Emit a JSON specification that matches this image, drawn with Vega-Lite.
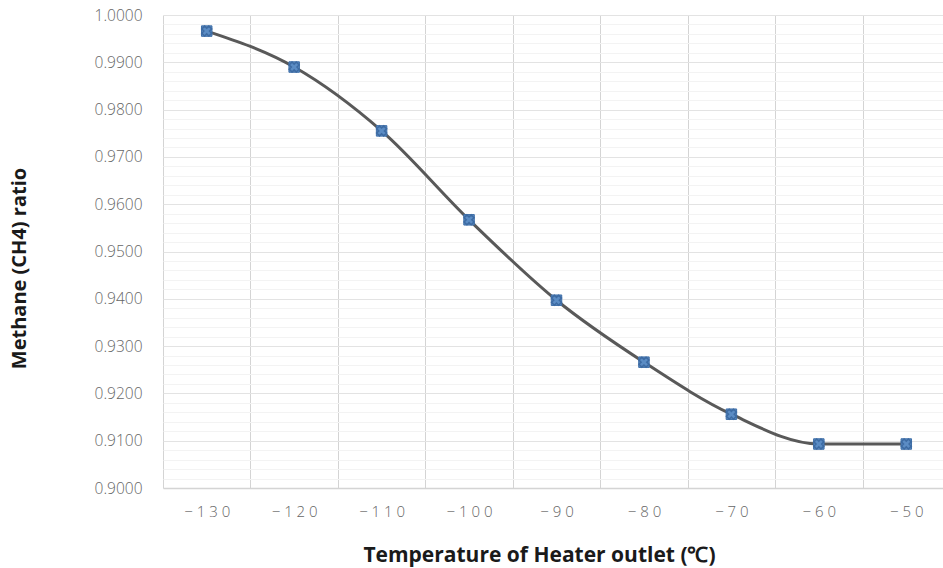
{
  "$schema": "https://vega.github.io/schema/vega-lite/v6.json",
  "autosize": "none",
  "width": 787,
  "height": 473,
  "padding": {"left": 163, "top": 15, "right": 0, "bottom": 80},
  "background": "white",
  "config": {"view": {"stroke": null}, "font": "Open Sans"},
  "data": {"values": [
    {"t": -130, "r": 0.9966},
    {"t": -120, "r": 0.9890},
    {"t": -110, "r": 0.9755},
    {"t": -100, "r": 0.9567},
    {"t": -90, "r": 0.9397},
    {"t": -80, "r": 0.9266},
    {"t": -70, "r": 0.9156},
    {"t": -60, "r": 0.9093},
    {"t": -50, "r": 0.9093}
  ]},
  "resolve": {"axis": {"x": "independent", "y": "independent"}},
  "layer": [
    {
      "mark": {"type": "line", "opacity": 0},
      "encoding": {
        "x": {"field": "t", "type": "quantitative", "scale": {"domain": [-135, -45], "nice": false, "zero": false}, "axis": {"orient": "bottom", "values": [-135,-125,-115,-105,-95,-85,-75,-65,-55], "labels": false, "ticks": false, "domain": false, "title": null, "grid": true, "gridColor": "#d4d4d4", "gridWidth": 1}},
        "y": {"field": "r", "type": "quantitative", "scale": {"domain": [0.9, 1.0], "nice": false, "zero": false}, "axis": {"orient": "left", "values": [0.902,0.904,0.906,0.908,0.912,0.914,0.916,0.918,0.922,0.924,0.926,0.928,0.932,0.934,0.936,0.938,0.942,0.944,0.946,0.948,0.952,0.954,0.956,0.958,0.962,0.964,0.966,0.968,0.972,0.974,0.976,0.978,0.982,0.984,0.986,0.988,0.992,0.994,0.996,0.998], "labels": false, "ticks": false, "domain": false, "title": null, "grid": true, "gridColor": "#f3f3f3", "gridWidth": 1}}
      }
    },
    {
      "mark": {"type": "line", "opacity": 0},
      "encoding": {
        "y": {"field": "r", "type": "quantitative", "scale": {"domain": [0.9, 1.0], "nice": false, "zero": false}, "axis": {"orient": "left", "values": [0.90,0.91,0.92,0.93,0.94,0.95,0.96,0.97,0.98,0.99,1.0], "format": ".4f", "labelColor": "#666666", "labelFontSize": 15.5, "labelFontWeight": 300, "labelPadding": 21, "ticks": false, "domain": false, "grid": true, "gridColor": "#e3e3e3", "title": "Methane (CH4) ratio", "titleFontSize": 20, "titleFontWeight": "bold", "titleColor": "#1a1a1a", "titlePadding": 65, "titleY": 253}},
        "x": {"field": "t", "type": "quantitative", "scale": {"domain": [-135, -45], "nice": false, "zero": false}, "axis": {"orient": "bottom", "values": [-130,-120,-110,-100,-90,-80,-70,-60,-50], "labelExpr": "join(split(datum.label, ''), ' ')", "labelColor": "#666666", "labelFontSize": 15, "labelFontWeight": 300, "labelPadding": 16, "ticks": false, "domain": true, "domainColor": "#d4d4d4", "domainWidth": 1.5, "grid": false, "title": "Temperature of Heater outlet (℃)", "titleFontSize": 21, "titleFontWeight": "bold", "titleColor": "#1a1a1a", "titlePadding": 25, "titleX": 376}}
      }
    },
    {
      "mark": {"type": "line", "color": "#595959", "strokeWidth": 3, "interpolate": "monotone"},
      "encoding": {
        "x": {"field": "t", "type": "quantitative", "axis": null},
        "y": {"field": "r", "type": "quantitative", "axis": null}
      }
    },
    {
      "mark": {"type": "point", "shape": "square", "filled": true, "size": 110, "color": "#5b8cc4", "stroke": "#3f6fa8", "strokeWidth": 1, "opacity": 1},
      "encoding": {
        "x": {"field": "t", "type": "quantitative", "axis": null},
        "y": {"field": "r", "type": "quantitative", "axis": null}
      }
    },
    {
      "mark": {"type": "point", "shape": "cross", "angle": 45, "filled": false, "size": 100, "stroke": "#3d6ba3", "strokeWidth": 1.5, "opacity": 1},
      "encoding": {
        "x": {"field": "t", "type": "quantitative", "axis": null},
        "y": {"field": "r", "type": "quantitative", "axis": null}
      }
    }
  ]
}
